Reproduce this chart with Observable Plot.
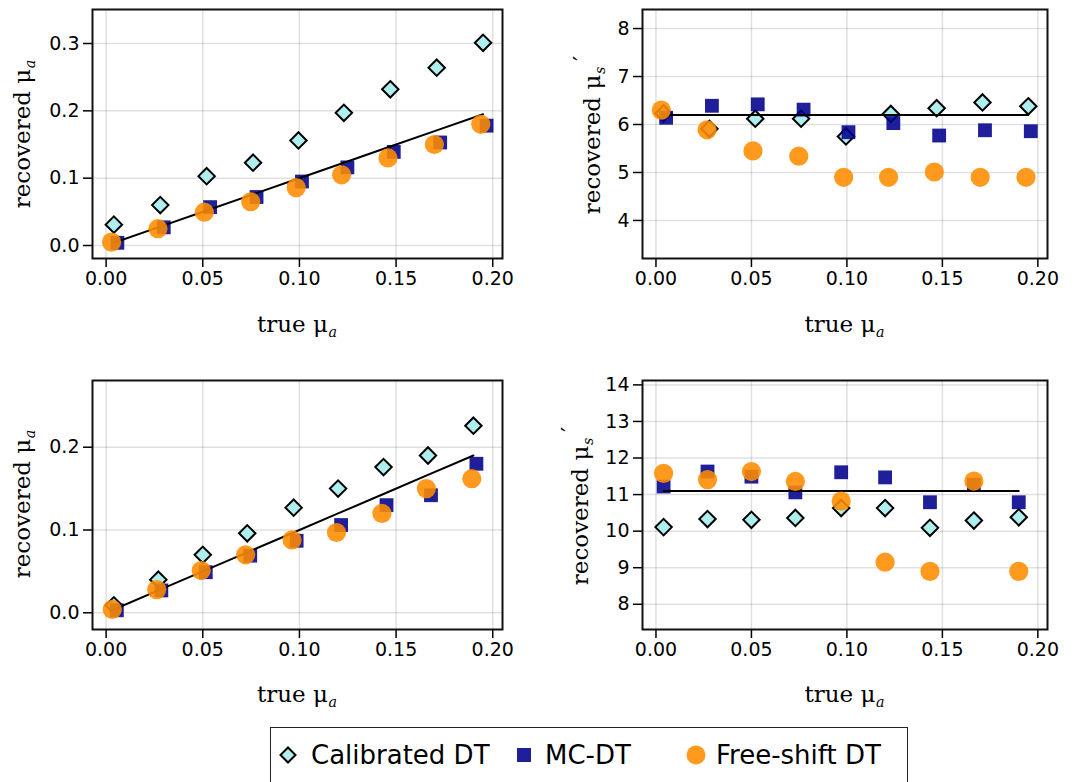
<!DOCTYPE html>
<html>
<head>
<meta charset="utf-8">
<script src="https://cdn.jsdelivr.net/npm/d3@7"></script>
<script src="https://cdn.jsdelivr.net/npm/@observablehq/plot@0.6"></script>
<style>
  html, body { margin: 0; padding: 0; background: #fff; }
  #wrap { position: relative; width: 1088px; height: 782px; overflow: hidden; background: #fff; }
  .panel { position: absolute; }
  .lab { position: absolute; font-family: "DejaVu Serif", serif; font-size: 23px; line-height: 23px; white-space: nowrap; color: #000; }
  .xlab { text-align: center; }
  .ylab { transform: translate(-50%, -50%) rotate(-90deg); }
  .sub { font-style: italic; font-size: 0.62em; position: relative; top: 0.35em; margin-left: 0.04em; }
  .prime { position: relative; top: -0.5em; margin-left: 0.25em; }
  #legend { position: absolute; left: 270px; top: 727px; width: 638px; height: 70px; border: 1.5px solid #222; box-sizing: border-box;
            font-family: "DejaVu Sans", sans-serif; font-size: 26px; color: #000; }
  .item { position: absolute; top: 12px; display: flex; align-items: center; height: 30px; }
</style>
</head>
<body>
<div id="wrap"></div>
<script>
// ---------- data ----------
const seriesNames = ["Calibrated DT", "MC-DT", "Free-shift DT"];
const xTicks = [0, 0.05, 0.10, 0.15, 0.20];

// top row: true mu_a
const trueMuATop = [0.004, 0.028, 0.052, 0.076, 0.0995, 0.123, 0.147, 0.171, 0.195];
// bottom row: true mu_a
const trueMuABottom = [0.004, 0.027, 0.050, 0.073, 0.097, 0.120, 0.1435, 0.1665, 0.190];

// panel 1: recovered mu_a (top-left)
const p1Calibrated = [0.031, 0.060, 0.103, 0.123, 0.156, 0.197, 0.232, 0.264, 0.301];
const p1MC         = [0.004, 0.027, 0.057, 0.072, 0.095, 0.116, 0.139, 0.153, 0.178];
const p1FreeShift  = [0.005, 0.025, 0.0495, 0.065, 0.086, 0.105, 0.130, 0.150, 0.180];

// panel 2: recovered mu_s' (top-right), true mu_s' = 6.2
const p2TrueMuS = 6.2;
const p2Calibrated = [6.23, 5.91, 6.12, 6.12, 5.75, 6.22, 6.34, 6.46, 6.38];
const p2MC         = [6.14, 6.39, 6.42, 6.31, 5.84, 6.03, 5.77, 5.88, 5.86];
const p2FreeShift  = [6.30, 5.89, 5.45, 5.34, 4.90, 4.90, 5.01, 4.90, 4.90];

// panel 3: recovered mu_a (bottom-left)
const p3Calibrated = [0.009, 0.040, 0.070, 0.096, 0.127, 0.150, 0.176, 0.190, 0.226];
const p3MC         = [0.003, 0.027, 0.049, 0.069, 0.087, 0.106, 0.130, 0.142, 0.180];
const p3FreeShift  = [0.004, 0.028, 0.051, 0.070, 0.088, 0.097, 0.120, 0.150, 0.162];

// panel 4: recovered mu_s' (bottom-right), true mu_s' = 11.1
const p4TrueMuS = 11.1;
const p4Calibrated = [10.11, 10.33, 10.31, 10.36, 10.63, 10.63, 10.09, 10.29, 10.38];
const p4MC         = [11.22, 11.63, 11.49, 11.06, 11.61, 11.47, 10.79, 11.27, 10.79];
const p4FreeShift  = [11.58, 11.41, 11.63, 11.36, 10.82, 9.15, 8.90, 11.37, 8.90];

const yTicksP1 = [0, 0.1, 0.2, 0.3];
const yTicksP2 = [4, 5, 6, 7, 8];
const yTicksP3 = [0, 0.1, 0.2];
const yTicksP4 = [8, 9, 10, 11, 12, 13, 14];

// ---------- styles ----------
const colCalFill = "#aeeeee";
const colMC = "#00008b";
const colFS = "#ff8c00";

function rows(xs, ys) { return xs.map((x, i) => ({x, y: ys[i]})); }

function panel(o) {
  const xdata = o.xs;
  const lineData = o.identity ? xdata.map(x => ({x, y: x})) : xdata.map(x => ({x, y: o.trueY}));
  return Plot.plot({
    width: o.width, height: o.height,
    marginLeft: o.ml, marginRight: o.mr, marginTop: o.mt, marginBottom: o.mb,
    x: {domain: [-0.00705, 0.20505]},
    y: {domain: o.yDomain},
    style: {fontFamily: "DejaVu Sans, sans-serif", fontSize: "19px", background: "transparent", color: "#000", overflow: "visible"},
    marks: [
      Plot.gridX(xTicks, {stroke: "#000", strokeOpacity: 0.12, strokeWidth: 1.5}),
      Plot.gridY(o.yTicks, {stroke: "#000", strokeOpacity: 0.12, strokeWidth: 1.5}),
      Plot.axisX(xTicks, {tickSize: 9, tickPadding: 4, tickFormat: d3.format(".2f"), label: null, fontSize: 19, strokeWidth: 1.5}),
      Plot.axisY(o.yTicks, {tickSize: 9, tickPadding: 4, tickFormat: o.yFormat, label: null, fontSize: 19, strokeWidth: 1.5}),
      Plot.dot(rows(xdata, o.cal), {x: "x", y: "y", symbol: "diamond2", r: 7.4, fill: colCalFill, stroke: "#000", strokeWidth: 2}),
      Plot.dot(rows(xdata, o.mc), {x: "x", y: "y", symbol: "square", r: 7.8, fill: colMC, fillOpacity: 0.88, stroke: "none", dx: o.dxMC}),
      Plot.line(lineData, {x: "x", y: "y", stroke: "#000", strokeWidth: 2}),
      Plot.dot(rows(xdata, o.fs), {x: "x", y: "y", r: 9.6, fill: colFS, fillOpacity: 0.88, stroke: "none", dx: o.dxFS}),
      Plot.frame({stroke: "#111", strokeWidth: 2})
    ]
  });
}

const wrap = document.getElementById("wrap");
function place(el, left, top) {
  el.classList.add("panel");
  el.style.left = left + "px";
  el.style.top = top + "px";
  wrap.appendChild(el);
}

place(panel({xs: trueMuATop, cal: p1Calibrated, mc: p1MC, fs: p1FreeShift, identity: true,
  yDomain: [-0.0193, 0.3505], yTicks: yTicksP1, yFormat: d3.format(".1f"),
  width: 544, height: 350, ml: 92, mr: 42, mt: 9, mb: 92, dxMC: 3.5, dxFS: -2.3}), 0, 0);

place(panel({xs: trueMuATop, cal: p2Calibrated, mc: p2MC, fs: p2FreeShift, identity: false, trueY: p2TrueMuS,
  yDomain: [3.207, 8.397], yTicks: yTicksP2, yFormat: d3.format("d"),
  width: 544, height: 350, ml: 98, mr: 41, mt: 9, mb: 92, dxMC: 2.5, dxFS: -2.3}), 544, 0);

place(panel({xs: trueMuABottom, cal: p3Calibrated, mc: p3MC, fs: p3FreeShift, identity: true,
  yDomain: [-0.0202, 0.2806], yTicks: yTicksP3, yFormat: d3.format(".1f"),
  width: 544, height: 350, ml: 92, mr: 42, mt: 10, mb: 91, dxMC: 3, dxFS: -1.6}), 0, 370);

place(panel({xs: trueMuABottom, cal: p4Calibrated, mc: p4MC, fs: p4FreeShift, identity: false, trueY: p4TrueMuS,
  yDomain: [7.31, 14.12], yTicks: yTicksP4, yFormat: d3.format("d"),
  width: 544, height: 350, ml: 98, mr: 41, mt: 10, mb: 91, dxMC: 0, dxFS: 0}), 544, 370);

// ---------- axis labels ----------
const xLabelHTML = 'true μ<span class="sub">a</span>';
const yLabelA = 'recovered μ<span class="sub">a</span>';
const yLabelS = 'recovered μ<span class="sub">s</span><span class="prime">′</span>';

function xlab(left, width, top) {
  const d = document.createElement("div");
  d.className = "lab xlab";
  d.style.left = left + "px"; d.style.width = width + "px"; d.style.top = top + "px";
  d.innerHTML = xLabelHTML;
  wrap.appendChild(d);
}
function ylab(cx, cy, html) {
  const d = document.createElement("div");
  d.className = "lab ylab";
  d.style.left = cx + "px"; d.style.top = cy + "px";
  d.innerHTML = html;
  wrap.appendChild(d);
}
xlab(92, 410, 313);
xlab(642, 405, 313);
xlab(92, 410, 683);
xlab(642, 405, 683);
ylab(24, 133.5, yLabelA);
ylab(594, 135, yLabelS);
ylab(24, 504, yLabelA);
ylab(582, 506, yLabelS);

// ---------- legend ----------
const legend = document.createElement("div");
legend.id = "legend";
const swatches = [
  {name: seriesNames[0], left: 6, gap: 12, svg: '<svg width="22" height="22" viewBox="-11 -11 22 22"><path d="M0,-7.5L7.5,0L0,7.5L-7.5,0Z" fill="' + colCalFill + '" stroke="#000" stroke-width="2"/></svg>'},
  {name: seriesNames[1], left: 242, gap: 10, svg: '<svg width="22" height="22" viewBox="-11 -11 22 22"><rect x="-7" y="-7" width="14" height="14" fill="' + colMC + '" fill-opacity="0.88"/></svg>'},
  {name: seriesNames[2], left: 414, gap: 9, svg: '<svg width="22" height="22" viewBox="-11 -11 22 22"><circle r="9.5" fill="' + colFS + '" fill-opacity="0.88"/></svg>'}
];
for (const s of swatches) {
  const it = document.createElement("div");
  it.className = "item";
  it.style.left = s.left + "px";
  it.innerHTML = s.svg.replace('<svg ', '<svg style="margin-right:' + s.gap + 'px" ') + '<span>' + s.name + '</span>';
  legend.appendChild(it);
}
wrap.appendChild(legend);
</script>
</body>
</html>
